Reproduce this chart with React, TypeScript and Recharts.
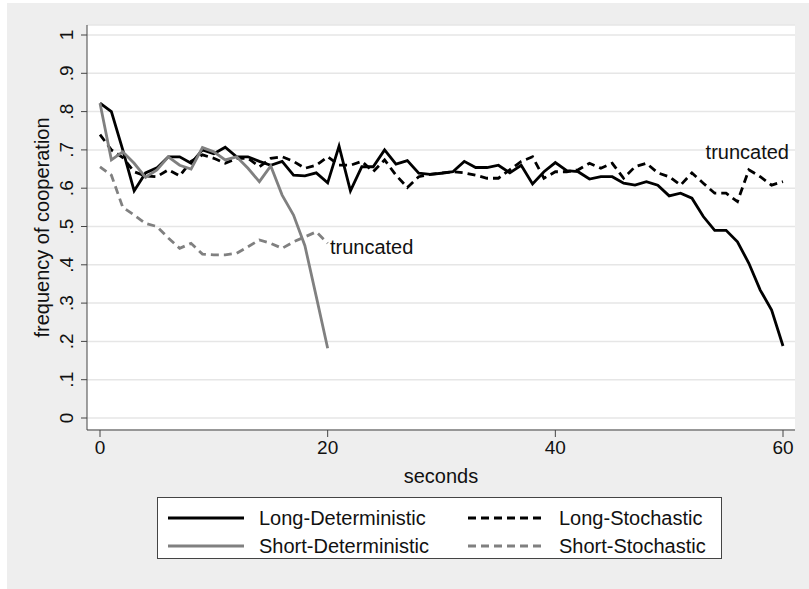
import React from 'react'
import { LineChart, Line, XAxis, YAxis, CartesianGrid, ReferenceDot } from 'recharts'

const seconds = [
  0, 1, 2, 3, 4, 5, 6, 7, 8, 9, 10, 11, 12, 13, 14, 15, 16, 17, 18, 19, 20,
  21, 22, 23, 24, 25, 26, 27, 28, 29, 30, 31, 32, 33, 34, 35, 36, 37, 38, 39, 40,
  41, 42, 43, 44, 45, 46, 47, 48, 49, 50, 51, 52, 53, 54, 55, 56, 57, 58, 59, 60,
]

const longDeterministic = [
  0.822, 0.8, 0.7, 0.593, 0.64, 0.653, 0.682, 0.682, 0.665, 0.7, 0.69,
  0.707, 0.682, 0.682, 0.67, 0.66, 0.67, 0.634, 0.632, 0.64, 0.614,
  0.71, 0.593, 0.656, 0.656, 0.7, 0.663, 0.672, 0.639, 0.636, 0.639,
  0.643, 0.67, 0.654, 0.654, 0.66, 0.64, 0.66, 0.611, 0.643, 0.667,
  0.646, 0.643, 0.624, 0.63, 0.63, 0.613, 0.608, 0.617, 0.608, 0.58,
  0.587, 0.574, 0.526, 0.49, 0.49, 0.46, 0.404, 0.334, 0.282, 0.188,
]

const longStochastic = [
  0.74, 0.7, 0.68, 0.643, 0.632, 0.63, 0.648, 0.632, 0.67, 0.687, 0.678,
  0.665, 0.678, 0.678, 0.656, 0.678, 0.682, 0.67, 0.652, 0.66, 0.682,
  0.66, 0.66, 0.67, 0.643, 0.674, 0.634, 0.602, 0.63, 0.636, 0.64,
  0.643, 0.64, 0.634, 0.626, 0.626, 0.648, 0.67, 0.682, 0.626, 0.643,
  0.643, 0.648, 0.665, 0.652, 0.665, 0.626, 0.656, 0.665, 0.64, 0.63,
  0.608, 0.64, 0.613, 0.587, 0.587, 0.565, 0.648, 0.63, 0.608, 0.617,
]

const shortDeterministic = [
  0.822, 0.674, 0.695, 0.665, 0.628, 0.648, 0.682, 0.66, 0.65, 0.706, 0.695,
  0.674, 0.682, 0.652, 0.617, 0.658, 0.582, 0.53, 0.45, 0.317, 0.182,
]

const shortStochastic = [
  0.656, 0.634, 0.55, 0.53, 0.508, 0.5, 0.47, 0.443, 0.456, 0.428, 0.426,
  0.426, 0.43, 0.447, 0.465, 0.456, 0.443, 0.46, 0.473, 0.486, 0.456,
]

const xTicks = [0, 20, 40, 60]
const yTicks = [0, 0.1, 0.2, 0.3, 0.4, 0.5, 0.6, 0.7, 0.8, 0.9, 1]

// where the two "truncated" notes sit, in data units
const truncatedNotes = [
  { t: 20.2, v: 0.446 },
  { t: 53.2, v: 0.695 },
]

const series = [
  { key: 'longDet', name: 'Long-Deterministic', color: '#000000', dash: undefined },
  { key: 'longSto', name: 'Long-Stochastic', color: '#000000', dash: '8 5' },
  { key: 'shortDet', name: 'Short-Deterministic', color: '#808080', dash: undefined },
  { key: 'shortSto', name: 'Short-Stochastic', color: '#808080', dash: '8 5' },
]

const chartData = seconds.map((t, i) => ({
  t,
  longDet: longDeterministic[i],
  longSto: longStochastic[i],
  shortDet: i < shortDeterministic.length ? shortDeterministic[i] : null,
  shortSto: i < shortStochastic.length ? shortStochastic[i] : null,
}))

const FONT = '"Liberation Sans", Arial, Helvetica, sans-serif'

const fmtY = (v: number) => {
  if (v === 0) return '0'
  if (v === 1) return '1'
  return '.' + Math.round(v * 10)
}

const YTick = (props: any) => {
  const { x, y, payload } = props
  const cx = x - 13
  return (
    <text
      x={cx}
      y={y}
      dy="0.35em"
      transform={`rotate(-90 ${cx} ${y})`}
      textAnchor="middle"
      fontSize={19}
      fontFamily={FONT}
      fill="#111"
    >
      {fmtY(payload.value)}
    </text>
  )
}

const NoteLabel = (props: any) => {
  const { viewBox } = props
  return (
    <text
      x={viewBox.x}
      y={viewBox.y}
      dy="0.35em"
      fontSize={20}
      fontFamily={FONT}
      fill="#111"
    >
      truncated
    </text>
  )
}

const YTitle = (props: any) => {
  const { viewBox } = props
  const cx = viewBox.x + 15
  const cy = viewBox.y + viewBox.height / 2
  return (
    <text
      x={cx}
      y={cy}
      dy="0.35em"
      transform={`rotate(-90 ${cx} ${cy})`}
      textAnchor="middle"
      fontSize={20}
      fontFamily={FONT}
      fill="#111"
    >
      frequency of cooperation
    </text>
  )
}

const XTitle = (props: any) => {
  const { viewBox } = props
  return (
    <text
      x={viewBox.x + viewBox.width / 2}
      y={viewBox.y + 46}
      dy="0.35em"
      textAnchor="middle"
      fontSize={20}
      fontFamily={FONT}
      fill="#111"
    >
      seconds
    </text>
  )
}

function LegendBox() {
  return (
    <div
      style={{
        position: 'absolute',
        left: 157,
        top: 497,
        width: 565,
        height: 62,
        background: '#fff',
        border: '1px solid #444',
        fontFamily: FONT,
        fontSize: 20,
        color: '#111',
        display: 'grid',
        gridTemplateColumns: '300px 262px',
        gridTemplateRows: '28px 28px',
        paddingTop: 6,
        boxSizing: 'border-box',
      }}
    >
      {series.map((s) => (
        <div key={s.key} style={{ display: 'flex', alignItems: 'center', paddingLeft: 10 }}>
          <svg width={76} height={10} style={{ marginRight: 15, flex: 'none' }}>
            <line
              x1={0}
              y1={5}
              x2={76}
              y2={5}
              stroke={s.color}
              strokeWidth={3}
              strokeDasharray={s.dash}
            />
          </svg>
          <span style={{ whiteSpace: 'nowrap' }}>{s.name}</span>
        </div>
      ))}
    </div>
  )
}

export default function App() {
  return (
    <div style={{ position: 'absolute', left: 0, top: 0, width: 809, height: 589, background: '#fff' }}>
      <div style={{ position: 'absolute', left: 7, top: 3, right: 0, bottom: 0, background: '#eeeeee' }} />
      <div style={{ position: 'absolute', left: 0, top: 0 }}>
        <LineChart
          width={809}
          height={589}
          data={chartData}
          margin={{ top: 25, right: 14, left: 27, bottom: 99 }}
        >
          <CartesianGrid fill="#ffffff" vertical={false} stroke="#e6e6e6" strokeWidth={1.5} />
          <XAxis
            dataKey="t"
            type="number"
            domain={[0, 60]}
            ticks={xTicks}
            padding={{ left: 13, right: 12 }}
            height={60}
            tickSize={7}
            tickMargin={4}
            stroke="#444"
            tick={{ fontSize: 19, fontFamily: FONT, fill: '#111' }}
            label={<XTitle />}
          />
          <YAxis
            type="number"
            domain={[0, 1]}
            ticks={yTicks}
            padding={{ top: 10, bottom: 12 }}
            width={60}
            tickSize={6}
            stroke="#444"
            tick={<YTick />}
            label={<YTitle />}
          />
          {series.map((s) => (
            <Line
              key={s.key}
              type="linear"
              dataKey={s.key}
              name={s.name}
              stroke={s.color}
              strokeWidth={2.8}
              strokeDasharray={s.dash}
              dot={false}
              activeDot={false}
              connectNulls={false}
              isAnimationActive={false}
            />
          ))}
          {truncatedNotes.map((n, i) => (
            <ReferenceDot
              key={i}
              x={n.t}
              y={n.v}
              r={0}
              fill="none"
              stroke="none"
              ifOverflow="visible"
              label={<NoteLabel />}
            />
          ))}
        </LineChart>
      </div>
      <LegendBox />
    </div>
  )
}
